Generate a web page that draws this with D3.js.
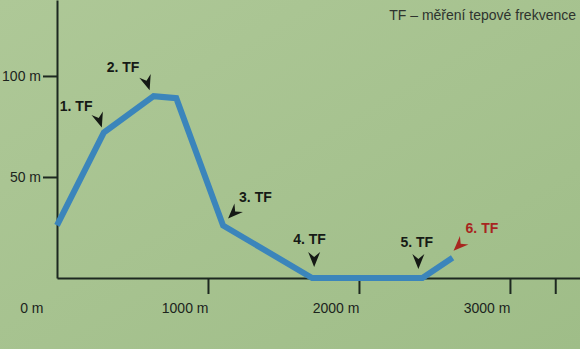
<!DOCTYPE html>
<html>
  <head>
    <title>Profil trasy</title>
    <script src="https://unpkg.com/d3@7/dist/d3.min.js"></script>
    <style>
      body { margin: 0; overflow: hidden; }
      text { font-family: "Liberation Sans", Arial, sans-serif; }
      .axis path, .axis line { stroke: #1d2820; stroke-width: 2; }
      .axis text { fill: #1c241d; font-size: 14px; }
      .tf { font-size: 14px; font-weight: bold; fill: #161a16; }
    </style>
  </head>
  <body>
    <div id="chart"></div>
    <script>
    // route profile: distance (m) and elevation (m)
    var distances = [0, 310, 640, 790, 1100, 1690, 2420, 2620];
    var elevations = [26, 72, 90, 89, 26, 0, 0, 10];

    // heart-rate measuring points (index into the profile)
    var tfLabels = ["1. TF", "2. TF", "3. TF", "4. TF", "5. TF", "6. TF"];
    var tfPoints = [1, 2, 4, 5, 6, 7];

    var xTicks = [0, 1000, 2000, 3000, 3300];
    var yTicks = [50, 100];
    var legendText = "TF – měření tepové frekvence";

    var w = 580, h = 349;
    var x0 = 57, base = 278;

    var svg = d3.select("#chart")
      .append("svg")
      .attr("width", w)
      .attr("height", h);

    var bg = svg.append("defs")
      .append("linearGradient")
      .attr("id", "bg")
      .attr("x1", "0%").attr("y1", "0%")
      .attr("x2", "100%").attr("y2", "100%");
    bg.append("stop").attr("offset", "0%").attr("stop-color", "#aec897");
    bg.append("stop").attr("offset", "100%").attr("stop-color", "#9fbd88");

    svg.append("rect")
      .attr("width", w)
      .attr("height", h)
      .style("fill", "url(#bg)");

    var x = d3.scaleLinear()
      .domain([0, 3464])
      .range([x0, w]);

    var y = d3.scaleLinear()
      .domain([0, 137.6])
      .range([base, 0]);

    // x axis
    var gx = svg.append("g")
      .attr("class", "axis")
      .attr("transform", "translate(0," + base + ")")
      .call(d3.axisBottom(x)
        .tickValues(xTicks)
        .tickSize(16)
        .tickSizeOuter(0)
        .tickPadding(9)
        .tickFormat(d => d == 3300 ? "" : d + " m"));
    gx.selectAll(".tick text")
      .attr("text-anchor", "end")
      .attr("x", d => d == 0 ? -14 : 0);
    gx.selectAll(".tick line")
      .filter(d => d == 0)
      .remove();

    // y axis
    svg.append("g")
      .attr("class", "axis")
      .attr("transform", "translate(" + x0 + ",0)")
      .call(d3.axisLeft(y)
        .tickValues(yTicks)
        .tickSize(14)
        .tickSizeOuter(0)
        .tickPadding(2)
        .tickFormat(d => d + " m"));

    // profile line
    var line = d3.line()
      .x((d, i) => x(distances[i]))
      .y(d => y(d));

    svg.append("path")
      .datum(elevations)
      .attr("d", line)
      .attr("fill", "none")
      .attr("stroke", "#3b85bb")
      .attr("stroke-width", 6)
      .attr("stroke-linejoin", "miter");

    // arrow + label offsets from each measuring point
    var layout = [
      { ax: -2, ay: -5, rot: -18, lx: -44, ly: -22 },
      { ax: -4, ay: -6, rot: -18, lx: -47, ly: -24 },
      { ax: 5, ay: -7, rot: 45, lx: 16, ly: -23 },
      { ax: 2, ay: -11, rot: 0, lx: -19, ly: -34 },
      { ax: -4, ay: -9, rot: 0, lx: -22, ly: -31 },
      { ax: 1, ay: -7, rot: 45, lx: 13, ly: -25 }
    ];

    var marks = svg.selectAll(".mark")
      .data(tfLabels)
      .enter()
      .append("g")
      .attr("class", "mark")
      .attr("transform", (d, i) => {
        var p = tfPoints[i];
        return "translate(" + x(distances[p]) + "," + y(elevations[p]) + ")";
      });

    marks.append("path")
      .attr("d", "M0,0L-6,-15L0,-10L6,-15Z")
      .attr("transform", (d, i) => "translate(" + layout[i].ax + "," + layout[i].ay + ") rotate(" + layout[i].rot + ")")
      .attr("fill", (d, i) => i == 5 ? "#a8261f" : "#151915");

    marks.append("text")
      .attr("class", "tf")
      .attr("x", (d, i) => layout[i].lx)
      .attr("y", (d, i) => layout[i].ly)
      .style("fill", (d, i) => i == 5 ? "#a8261f" : null)
      .text(d => d);

    svg.append("text")
      .attr("x", 576)
      .attr("y", 20)
      .attr("text-anchor", "end")
      .style("font-size", "14px")
      .style("fill", "#2e332e")
      .text(legendText);
    </script>
  </body>
</html>
